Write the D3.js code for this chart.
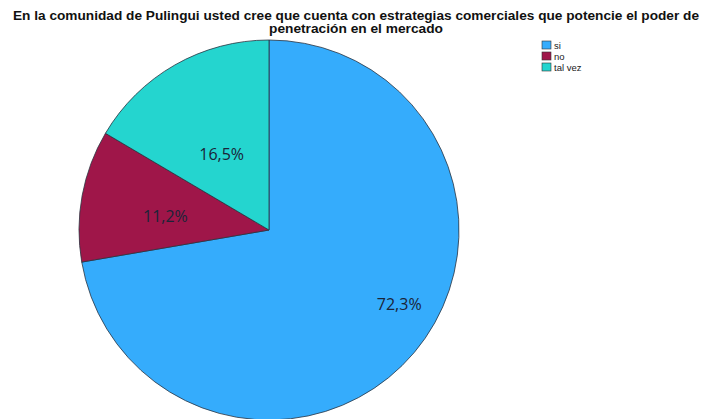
<!DOCTYPE html>
<html>
<head>
<meta charset="utf-8">
<script src="https://cdn.jsdelivr.net/npm/d3@7"></script>
<style>
  html, body { margin: 0; padding: 0; background: #fff; }
  svg { display: block; }
</style>
</head>
<body>
<svg id="chart" width="702" height="419"></svg>
<script>
// Survey answers and their share of respondents (%)
const categories = ["si", "no", "tal vez"];
const values = [72.3, 11.2, 16.5];
const valueLabels = ["72,3%", "11,2%", "16,5%"];
const titleLines = [
  "En la comunidad de Pulingui usted cree que cuenta con estrategias comerciales que potencie el poder de",
  "penetración en el mercado"
];

const colors = d3.scaleOrdinal()
  .domain(categories)
  .range(["#35acfc", "#9f1649", "#24d5cf"]);

const svg = d3.select("#chart");

// Title (condensed bold face, two centred lines)
const titleWidths = [686, 174];
svg.append("g")
  .selectAll("text")
  .data(titleLines)
  .join("text")
  .attr("x", 356)
  .attr("y", (d, i) => 19.5 + i * 13.6)
  .attr("text-anchor", "middle")
  .attr("font-family", "'Liberation Sans', Arial, sans-serif")
  .attr("font-weight", "bold")
  .attr("font-size", 12.2)
  .attr("fill", "#111")
  .attr("textLength", (d, i) => titleWidths[i])
  .attr("lengthAdjust", "spacingAndGlyphs")
  .text(d => d);

// Pie
const cx = 269, cy = 230, radius = 190;
const pie = d3.pie().sort(null).value(d => d.value);
const arcs = pie(categories.map((c, i) => ({ cat: c, value: values[i], label: valueLabels[i] })));
const arc = d3.arc().innerRadius(0).outerRadius(radius);

const g = svg.append("g").attr("transform", `translate(${cx},${cy})`);
g.selectAll("path")
  .data(arcs)
  .join("path")
  .attr("d", arc)
  .attr("fill", d => colors(d.data.cat))
  .attr("stroke", "#2b3340")
  .attr("stroke-width", 0.8)
  .attr("stroke-linejoin", "round");

// Label placement inside each slice: radial distance (fraction of radius) and angle shift (radians)
const labelLayout = [
  { r: 0.79, shift: -0.18 },
  { r: 0.55, shift: -0.05 },
  { r: 0.47, shift: -0.04 }
];
g.selectAll("text.val")
  .data(arcs)
  .join("text")
  .attr("class", "val")
  .attr("transform", (d, i) => {
    const a = (d.startAngle + d.endAngle) / 2 + labelLayout[i].shift;
    const rr = radius * labelLayout[i].r;
    return `translate(${rr * Math.sin(a)},${-rr * Math.cos(a)})`;
  })
  .attr("dy", "0.35em")
  .attr("text-anchor", "middle")
  .attr("font-family", "'Open Sans', sans-serif")
  .attr("font-size", 16)
  .attr("fill", "#1a2438")
  .text(d => d.data.label);

// Legend
const legend = svg.append("g").attr("transform", "translate(542,41)");
const item = legend.selectAll("g")
  .data(categories)
  .join("g")
  .attr("transform", (d, i) => `translate(0,${i * 11})`);
item.append("rect")
  .attr("width", 9)
  .attr("height", 8)
  .attr("fill", d => colors(d))
  .attr("stroke", "#333")
  .attr("stroke-width", 0.6);
item.append("text")
  .attr("x", 12)
  .attr("y", 7.5)
  .attr("font-family", "'Liberation Sans', Arial, sans-serif")
  .attr("font-size", 9.5)
  .attr("fill", "#1a1a1a")
  .text(d => d);
</script>
</body>
</html>
